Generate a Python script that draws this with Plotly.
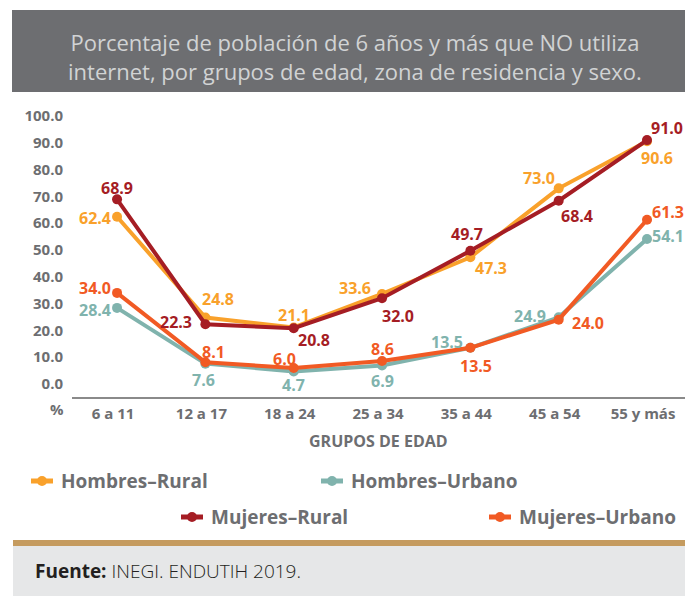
import plotly.graph_objects as go

categories = ["6 a 11", "12 a 17", "18 a 24", "25 a 34", "35 a 44", "45 a 54", "55 y más"]
hombres_rural = [62.4, 24.8, 21.1, 33.6, 47.3, 73.0, 90.6]
hombres_urbano = [28.4, 7.6, 4.7, 6.9, 13.5, 24.9, 54.1]
mujeres_rural = [68.9, 22.3, 20.8, 32.0, 49.7, 68.4, 91.0]
mujeres_urbano = [34.0, 8.1, 6.0, 8.6, 13.5, 24.0, 61.3]
y_ticks = [0, 10, 20, 30, 40, 50, 60, 70, 80, 90, 100]

series = [
    ("Hombres–Rural", hombres_rural, "#f9a12b",
     [(-22, -1), (13, 19), (0, 12), (-27, 6), (21, -11), (-20, 10), (10, -17)]),
    ("Hombres–Urbano", hombres_urbano, "#80b3ad",
     [(-22, -2), (-2, -16), (0, -14), (0, -15), (-23, 6), (-29, 1), (21, 3)]),
    ("Mujeres–Rural", mujeres_rural, "#a51d24",
     [(0, 11), (-29, 2), (20, -12), (16, -18), (-3, 17), (18, -15), (20, 12)]),
    ("Mujeres–Urbano", mujeres_urbano, "#f15a24",
     [(-22, 5), (8, 10), (-9, 9), (0, 12), (6, -18), (29, -3), (21, 8)]),
]

FONT = "Open Sans"
GREY = "#6d6e71"
W, H = 685, 596

fig = go.Figure()
annotations = []
for name, vals, color, offs in series:
    fig.add_trace(go.Scatter(
        x=categories, y=vals, mode="lines+markers", name=name,
        line=dict(color=color, width=4),
        marker=dict(color=color, size=10),
        showlegend=False, hoverinfo="skip"))
    for c, v, (dx, dy) in zip(categories, vals, offs):
        annotations.append(dict(
            x=c, y=v, xref="x", yref="y", text=f"{v:.1f}", showarrow=False,
            xshift=dx, yshift=dy,
            font=dict(family=FONT, size=16, color=color, weight="bold")))

def px(x):
    return x / W

def py(y):
    return 1 - y / H

shapes = [
    dict(type="rect", xref="paper", yref="paper", x0=px(12), x1=px(685), y0=py(92), y1=py(10),
         fillcolor="#6d6e71", line=dict(width=0), layer="below"),
    dict(type="rect", xref="paper", yref="paper", x0=px(13), x1=px(685), y0=py(546), y1=py(540),
         fillcolor="#c59b5f", line=dict(width=0), layer="below"),
    dict(type="rect", xref="paper", yref="paper", x0=px(13), x1=px(685), y0=py(596), y1=py(546),
         fillcolor="#e6e7e8", line=dict(width=0), layer="below"),
]

annotations += [
    dict(x=px(355), y=py(56.5), xref="paper", yref="paper", showarrow=False,
         text="Porcentaje de población de 6 años y más que NO utiliza<br>internet, por grupos de edad, zona de residencia y sexo.",
         font=dict(family=FONT, size=22, color="#d1d3d4"), align="center",
         xanchor="center", yanchor="middle"),
    dict(x=px(57), y=py(409), xref="paper", yref="paper", showarrow=False, text="%",
         font=dict(family=FONT, size=15, color=GREY, weight="bold"),
         xanchor="center", yanchor="middle"),
    dict(x=px(379), y=py(441), xref="paper", yref="paper", showarrow=False, text="GRUPOS DE EDAD",
         font=dict(family=FONT, size=16, color=GREY, weight="bold"),
         xanchor="center", yanchor="middle"),
    dict(x=px(33), y=py(571), xref="paper", yref="paper", showarrow=False,
         text="<b>Fuente:</b> <span style='font-weight:300'>INEGI. ENDUTIH 2019.</span>",
         font=dict(family=FONT, size=19, color="#231f20"),
         xanchor="left", yanchor="middle"),
]

legend_items = [
    ("Hombres–Rural", "#f9a12b", 42, 481),
    ("Hombres–Urbano", "#80b3ad", 332, 481),
    ("Mujeres–Rural", "#a51d24", 192, 517),
    ("Mujeres–Urbano", "#f15a24", 500, 517),
]
for name, color, cx, cy in legend_items:
    shapes.append(dict(type="line", xref="paper", yref="paper",
                       x0=px(cx - 11), x1=px(cx + 11), y0=py(cy), y1=py(cy),
                       line=dict(color=color, width=5)))
    shapes.append(dict(type="circle", xref="paper", yref="paper",
                       x0=px(cx - 5), x1=px(cx + 5), y0=py(cy + 5), y1=py(cy - 5),
                       fillcolor=color, line=dict(width=0)))
    annotations.append(dict(x=px(cx + 17), y=py(cy), xref="paper", yref="paper",
                            showarrow=False, text=name, xanchor="left", yanchor="middle",
                            font=dict(family=FONT, size=19, color=GREY, weight="bold")))

fig.update_layout(
    width=W, height=H, margin=dict(l=0, r=0, t=0, b=0),
    paper_bgcolor="white", plot_bgcolor="white",
    shapes=shapes, annotations=annotations,
    xaxis=dict(domain=[px(72), 1.0], range=[-0.51, 6.43], type="category",
               showgrid=False, zeroline=False, showline=True, linecolor="#8a8a8a", linewidth=1.5,
               ticks="", ticklabelstandoff=2, ticklabelshift=-4,
               tickfont=dict(family=FONT, size=15, color=GREY, weight="bold"), automargin=False),
    yaxis=dict(domain=[py(397), py(105)], range=[-4.85, 104.1],
               tickvals=y_ticks, ticktext=[f"{t:.1f}" for t in y_ticks],
               showgrid=False, zeroline=False, showline=False, ticks="",
               ticklabelstandoff=8,
               tickfont=dict(family=FONT, size=15, color=GREY, weight="bold"), automargin=False),
)

fig.write_html("out.html")
